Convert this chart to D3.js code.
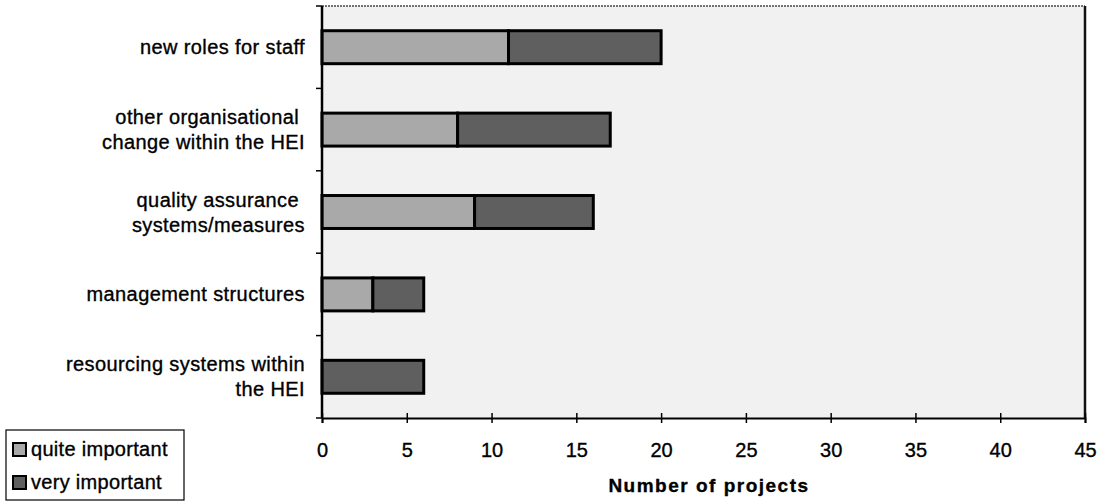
<!DOCTYPE html>
<html>
<head>
<meta charset="utf-8">
<script src="https://cdn.jsdelivr.net/npm/d3@7/dist/d3.min.js"></script>
<style>
  html, body { margin: 0; padding: 0; background: #fff; }
  svg { display: block; }
  text { font-family: "Liberation Sans", Arial, Helvetica, sans-serif; fill: #000; stroke: #000; stroke-width: 0.35px; }
</style>
</head>
<body>
<svg id="chart" width="1107" height="501"></svg>
<script>
// ---- data ----
const categories = [
  ["new roles for staff"],
  ["other organisational ", "change within the HEI"],
  ["quality assurance ", "systems/measures"],
  ["management structures"],
  ["resourcing systems within", "the HEI"]
];
const categoryKeys = categories.map(c => c.join(" "));
const seriesNames = ["quite important", "very important"];
const quiteImportant = [11, 8, 9, 3, 0];
const veryImportant = [9, 9, 7, 3, 6];
const xTicks = [0, 5, 10, 15, 20, 25, 30, 35, 40, 45];
const xTitle = "Number of projects";

// ---- layout ----
const svg = d3.select("#chart");
const plot = { left: 322, right: 1085, top: 6, bottom: 418 };
const colors = { "quite important": "#a9a9a9", "very important": "#5f5f5f" };

const x = d3.scaleLinear().domain([0, 45]).range([plot.left, plot.right]);
const y = d3.scaleBand().domain(categoryKeys).range([plot.top, plot.bottom])
  .paddingInner(0.6).paddingOuter(0.3);

// plot background
svg.append("rect")
  .attr("x", plot.left).attr("y", plot.top)
  .attr("width", plot.right - plot.left).attr("height", plot.bottom - plot.top)
  .attr("fill", "#f1f1f1");

// frame top & right
svg.append("line").attr("x1", plot.left).attr("x2", plot.right)
  .attr("y1", plot.top).attr("y2", plot.top)
  .attr("stroke", "#444").attr("stroke-width", 1.5).attr("stroke-dasharray", "2,1");
svg.append("line").attr("x1", plot.right).attr("x2", plot.right)
  .attr("y1", plot.top).attr("y2", plot.bottom)
  .attr("stroke", "#111").attr("stroke-width", 2.5);

// stacked data
const rows = categoryKeys.map((k, i) => ({
  key: k,
  "quite important": quiteImportant[i],
  "very important": veryImportant[i]
}));
const stacked = d3.stack().keys(seriesNames)(rows);

svg.append("g").selectAll("g")
  .data(stacked).join("g")
  .attr("fill", d => colors[d.key])
  .selectAll("rect")
  .data(d => d.filter(s => s[1] - s[0] > 0))
  .join("rect")
  .attr("x", d => x(d[0]))
  .attr("y", d => y(d.data.key))
  .attr("width", d => x(d[1]) - x(d[0]))
  .attr("height", y.bandwidth())
  .attr("stroke", "#000")
  .attr("stroke-width", 3);

// x axis
const xAxis = svg.append("g").attr("transform", `translate(0,${plot.bottom})`)
  .call(d3.axisBottom(x).tickValues(xTicks).tickSize(5).tickPadding(18));
xAxis.select(".domain").attr("stroke", "#000").attr("stroke-width", 2);
xAxis.selectAll(".tick line").attr("y1", -5).attr("stroke-width", 1.5);
xAxis.selectAll(".tick text")
  .attr("font-size", 20).attr("font-family", "'Liberation Sans', Arial, sans-serif")
  .attr("dy", "0.71em").attr("y", 25);

// y axis (ticks at category boundaries)
const boundaries = categoryKeys.map(k => y(k) - y.step() * y.paddingInner() / 2);
boundaries[0] = plot.top;
boundaries.push(plot.bottom);
const yAxisG = svg.append("g");
yAxisG.append("line").attr("x1", plot.left).attr("x2", plot.left)
  .attr("y1", plot.top).attr("y2", plot.bottom)
  .attr("stroke", "#000").attr("stroke-width", 2.5);
yAxisG.selectAll("line.tk").data(boundaries).join("line").attr("class", "tk")
  .attr("x1", plot.left - 6).attr("x2", plot.left)
  .attr("y1", d => d).attr("y2", d => d)
  .attr("stroke", "#000").attr("stroke-width", 1.5);

// category labels
const lineH = 25;
categories.forEach((lines, i) => {
  const cy = y(categoryKeys[i]) + y.bandwidth() / 2;
  const t = svg.append("text")
    .attr("text-anchor", "end")
    .attr("font-size", 20)
    .attr("letter-spacing", 0.4)
    .attr("xml:space", "preserve")
    .style("white-space", "pre");
  lines.forEach((ln, j) => {
    const off = (j - (lines.length - 1) / 2) * lineH;
    t.append("tspan").attr("x", 305).attr("y", cy + off + 7).text(ln);
  });
});

// x title
svg.append("text")
  .attr("x", 709).attr("y", 492)
  .attr("text-anchor", "middle")
  .attr("font-size", 19).attr("font-weight", "bold")
  .attr("letter-spacing", 1.5)
  .text(xTitle);

// legend
const lg = svg.append("g");
lg.append("rect").attr("x", 6).attr("y", 430).attr("width", 178).attr("height", 70)
  .attr("fill", "#fff").attr("stroke", "#000").attr("stroke-width", 1.2);
seriesNames.forEach((name, i) => {
  const yy = 443 + i * 33;
  lg.append("rect").attr("x", 13).attr("y", yy).attr("width", 13).attr("height", 13)
    .attr("fill", colors[name]).attr("stroke", "#000").attr("stroke-width", 2);
  lg.append("text").attr("x", 31).attr("y", yy + 13)
    .attr("font-size", 20).attr("letter-spacing", 0.3).text(name);
});
</script>
</body>
</html>
